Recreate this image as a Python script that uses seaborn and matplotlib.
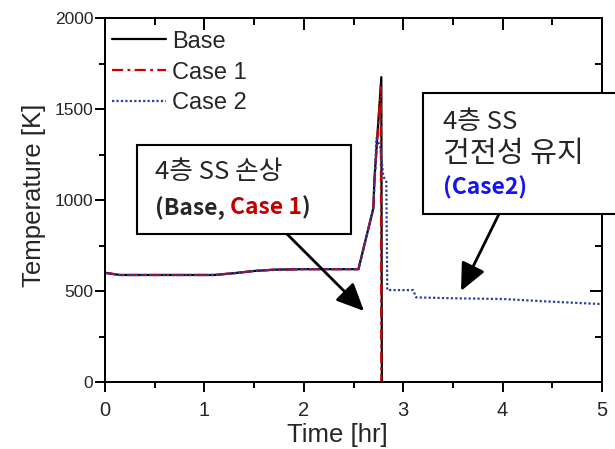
import matplotlib
matplotlib.use("Agg")
import matplotlib.pyplot as plt
import seaborn as sns
import pandas as pd
from matplotlib.patches import Rectangle, FancyArrowPatch
from matplotlib.ticker import MultipleLocator

# ---------------- data ----------------
cases = ["Base", "Case 1", "Case 2"]

time_base = [0.00, 0.15, 1.10, 1.30, 1.50, 1.70, 2.00, 2.55, 2.70, 2.71, 2.78, 2.785]
temp_base = [600, 588, 588, 598, 610, 617, 620, 620, 956, 1110, 1675, 0]

time_case1 = [0.00, 0.15, 1.10, 1.30, 1.50, 1.70, 2.00, 2.55, 2.70, 2.71, 2.775, 2.78]
temp_case1 = [600, 588, 588, 598, 610, 617, 620, 620, 956, 1100, 1620, 0]

time_case2 = [0.00, 0.15, 1.10, 1.30, 1.50, 1.70, 2.00, 2.55, 2.70, 2.72, 2.73, 2.77,
              2.80, 2.83, 2.84, 3.10, 3.13, 3.50, 4.00, 4.50, 5.00]
temp_case2 = [600, 588, 588, 598, 610, 617, 620, 620, 956, 1200, 1340, 1290,
              1130, 1100, 505, 505, 465, 460, 456, 441, 428]

x_ticks = [0, 1, 2, 3, 4, 5]
y_ticks = [0, 500, 1000, 1500, 2000]

# ---------------- style ----------------
sns.set_style("ticks")
plt.rcParams["font.family"] = ["Liberation Sans", "DejaVu Sans"]
KR = ["Noto Sans CJK KR", "DejaVu Sans"]

df = pd.concat([
    pd.DataFrame({"time": time_base, "temp": temp_base, "case": "Base"}),
    pd.DataFrame({"time": time_case1, "temp": temp_case1, "case": "Case 1"}),
    pd.DataFrame({"time": time_case2, "temp": temp_case2, "case": "Case 2"}),
], ignore_index=True)

W, H = 615, 449
fig = plt.figure(figsize=(W / 100, H / 100), dpi=100)
fig.patch.set_facecolor("white")


def fx(px):
    return px / W


def fy(py):
    return 1 - py / H


ax = fig.add_axes([fx(105), fy(382), fx(602) - fx(105), fy(18) - fy(382)])

palette = {"Base": "black", "Case 1": "#cc0000", "Case 2": "#2a3cb0"}
dashes = {"Base": "", "Case 1": (5, 2, 1.2, 2), "Case 2": (1, 1)}
sns.lineplot(data=df, x="time", y="temp", hue="case", style="case",
             hue_order=cases, style_order=cases, palette=palette, dashes=dashes,
             estimator=None, sort=False, linewidth=1.6, legend=False, ax=ax)

ax.set_xlim(0, 5)
ax.set_ylim(0, 2000)
ax.set_xticks(x_ticks)
ax.set_yticks(y_ticks)
ax.xaxis.set_minor_locator(MultipleLocator(0.5))
ax.yaxis.set_minor_locator(MultipleLocator(250))
ax.tick_params(which="both", direction="out", bottom=True, left=True,
               top=False, right=False, color="black", width=1.4)
ax.tick_params(axis="x", which="major", labelsize=14.5, length=7.5, pad=6)
ax.tick_params(axis="y", which="major", labelsize=12.5, length=7.5, pad=1)
ax.tick_params(which="minor", length=4)
for s in ax.spines.values():
    s.set_linewidth(1.4)
    s.set_color("black")
    s.set_visible(True)

ax.set_xlabel("Time [hr]", fontsize=18.5)
ax.set_ylabel("Temperature [K]", fontsize=18.5)
ax.xaxis.set_label_coords(0.467, -0.112)
ax.yaxis.set_label_coords(-0.118, 0.514)

# inward ticks on top & right via twin axes
axt = ax.twiny()
axt.set_xlim(0, 5)
axt.set_xticks(x_ticks)
axt.xaxis.set_minor_locator(MultipleLocator(0.5))
axt.tick_params(axis="x", which="both", direction="in", top=True, bottom=False,
                labeltop=False, color="black", width=1.4)
axt.tick_params(axis="x", which="major", length=8.5)
axt.tick_params(axis="x", which="minor", length=5)
axr = ax.twinx()
axr.set_ylim(0, 2000)
axr.set_yticks(y_ticks)
axr.yaxis.set_minor_locator(MultipleLocator(250))
axr.tick_params(axis="y", which="both", direction="in", right=True, left=False,
                labelright=False, color="black", width=1.4)
axr.tick_params(axis="y", which="major", length=8.5)
axr.tick_params(axis="y", which="minor", length=5)
for a in (axt, axr):
    for s in a.spines.values():
        s.set_linewidth(1.4)
        s.set_color("black")

# legend
handles = ax.get_lines()[:3]
ax.legend(handles, cases, loc="upper left", bbox_to_anchor=(0.0, 0.985),
          frameon=False, fontsize=17, handlelength=2.3, handletextpad=0.25,
          labelspacing=0.38, borderaxespad=0.1, borderpad=0.2)

# ---------------- annotation boxes ----------------
box1 = Rectangle((fx(137), fy(234)), fx(351) - fx(137), fy(145) - fy(234),
                 transform=fig.transFigure, facecolor="white", edgecolor="black",
                 linewidth=1.5, zorder=5)
fig.add_artist(box1)
box2 = Rectangle((fx(423), fy(214)), fx(640) - fx(423), fy(93) - fy(214),
                 transform=fig.transFigure, facecolor="white", edgecolor="black",
                 linewidth=1.5, zorder=5, clip_on=False)
fig.add_artist(box2)

fig.text(fx(155), fy(172), "4층 SS 손상", family=KR, fontsize=18.5,
         va="center", ha="left", zorder=6)
t1 = fig.text(fx(155), fy(208), "(Base, ", family=KR, fontsize=16.5,
              fontweight="bold", va="center", ha="left", zorder=6)
t2 = fig.text(0, 0, "Case 1", family=KR, fontsize=16.5, fontweight="bold",
              color="#c00000", va="center", ha="left", zorder=6)
t3 = fig.text(0, 0, ")", family=KR, fontsize=16.5, fontweight="bold",
              va="center", ha="left", zorder=6)
fig.canvas.draw()
r = fig.canvas.get_renderer()
bb1 = t1.get_window_extent(r)
t2.set_position((bb1.x1 / fig.bbox.width, fy(208)))
fig.canvas.draw()
bb2 = t2.get_window_extent(r)
t3.set_position((bb2.x1 / fig.bbox.width, fy(208)))

fig.text(fx(443), fy(122), "4층 SS", family=KR, fontsize=18.5,
         va="center", ha="left", zorder=6)
fig.text(fx(443), fy(154), "건전성 유지", family=KR, fontsize=21,
         va="center", ha="left", zorder=6)
fig.text(fx(443), fy(188), "(Case2)", family=KR, fontsize=16.5, fontweight="bold",
         color="#1414f0", va="center", ha="left", zorder=6)

# arrows
for (x0, y0), (x1, y1) in [((287, 234), (364, 311)), ((499, 214), (461, 291))]:
    arr = FancyArrowPatch((fx(x0), fy(y0)), (fx(x1), fy(y1)),
                          transform=fig.transFigure,
                          arrowstyle="-|>,head_length=1.2,head_width=0.55",
                          mutation_scale=14, color="black", linewidth=2.0,
                          shrinkA=0, shrinkB=0, zorder=4)
    fig.add_artist(arr)

fig.savefig("out.png", dpi=100, facecolor="white")
